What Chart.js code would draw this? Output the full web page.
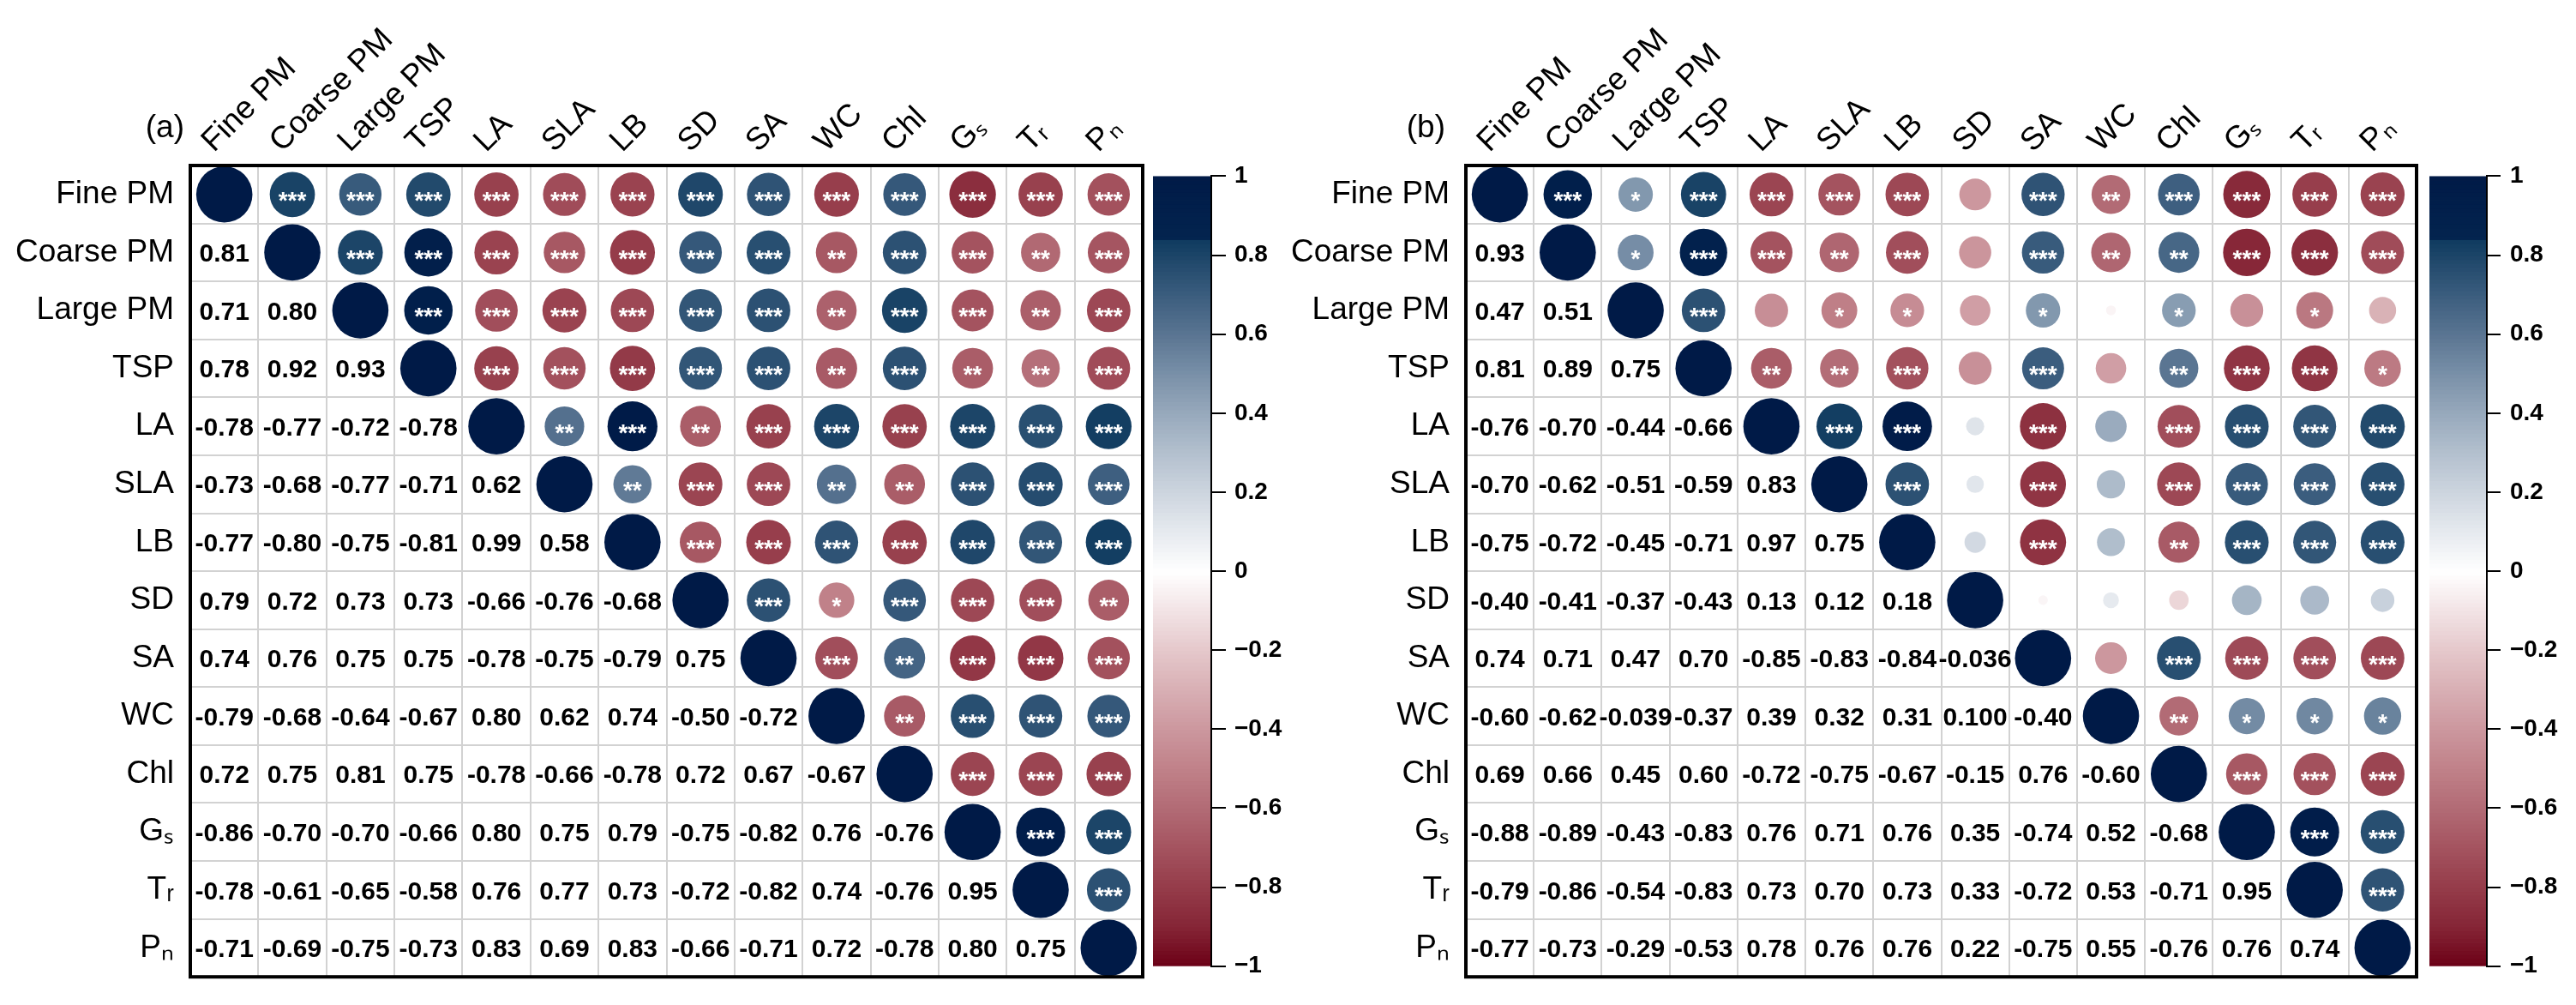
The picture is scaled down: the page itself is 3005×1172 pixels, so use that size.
<!DOCTYPE html>
<html>
<head>
<meta charset="utf-8">
<script src="https://cdn.jsdelivr.net/npm/chart.js@4.4.1/dist/chart.umd.min.js"></script>
<style>
html,body{margin:0;padding:0;background:#fff;width:3005px;height:1172px;overflow:hidden}
canvas{position:absolute;top:0}
#chartA{left:0;width:1500px;height:1172px}
#chartB{left:1500px;width:1505px;height:1172px}
</style>
</head>
<body>
<canvas id="chartA" width="1500" height="1172"></canvas>
<canvas id="chartB" width="1505" height="1172"></canvas>
<script>
// ---------------- DATA ----------------
const variables = ['Fine PM','Coarse PM','Large PM','TSP','LA','SLA','LB','SD','SA','WC','Chl','G\u209B','T\u1D63','P\u2099'];

// lower triangle (row i, columns 0..i-1) — panel (a)
const corrA = [
  [],
  [0.81],
  [0.71,0.80],
  [0.78,0.92,0.93],
  [-0.78,-0.77,-0.72,-0.78],
  [-0.73,-0.68,-0.77,-0.71,0.62],
  [-0.77,-0.80,-0.75,-0.81,0.99,0.58],
  [0.79,0.72,0.73,0.73,-0.66,-0.76,-0.68],
  [0.74,0.76,0.75,0.75,-0.78,-0.75,-0.79,0.75],
  [-0.79,-0.68,-0.64,-0.67,0.80,0.62,0.74,-0.50,-0.72],
  [0.72,0.75,0.81,0.75,-0.78,-0.66,-0.78,0.72,0.67,-0.67],
  [-0.86,-0.70,-0.70,-0.66,0.80,0.75,0.79,-0.75,-0.82,0.76,-0.76],
  [-0.78,-0.61,-0.65,-0.58,0.76,0.77,0.73,-0.72,-0.82,0.74,-0.76,0.95],
  [-0.71,-0.69,-0.75,-0.73,0.83,0.69,0.83,-0.66,-0.71,0.72,-0.78,0.80,0.75]
];
// significance stars, upper triangle (row i, columns i+1..13) — panel (a)
const starsA = [
  ['***','***','***','***','***','***','***','***','***','***','***','***','***'],
  ['***','***','***','***','***','***','***','**','***','***','**','***'],
  ['***','***','***','***','***','***','**','***','***','**','***'],
  ['***','***','***','***','***','**','***','**','**','***'],
  ['**','***','**','***','***','***','***','***','***'],
  ['**','***','***','**','**','***','***','***'],
  ['***','***','***','***','***','***','***'],
  ['***','*','***','***','***','**'],
  ['***','**','***','***','***'],
  ['**','***','***','***'],
  ['***','***','***'],
  ['***','***'],
  ['***']
];

// lower triangle — panel (b)
const corrB = [
  [],
  [0.93],
  [0.47,0.51],
  [0.81,0.89,0.75],
  [-0.76,-0.70,-0.44,-0.66],
  [-0.70,-0.62,-0.51,-0.59,0.83],
  [-0.75,-0.72,-0.45,-0.71,0.97,0.75],
  [-0.40,-0.41,-0.37,-0.43,0.13,0.12,0.18],
  [0.74,0.71,0.47,0.70,-0.85,-0.83,-0.84,-0.036],
  [-0.60,-0.62,-0.039,-0.37,0.39,0.32,0.31,0.0999,-0.40],
  [0.69,0.66,0.45,0.60,-0.72,-0.75,-0.67,-0.15,0.76,-0.60],
  [-0.88,-0.89,-0.43,-0.83,0.76,0.71,0.76,0.35,-0.74,0.52,-0.68],
  [-0.79,-0.86,-0.54,-0.83,0.73,0.70,0.73,0.33,-0.72,0.53,-0.71,0.95],
  [-0.77,-0.73,-0.29,-0.53,0.78,0.76,0.76,0.22,-0.75,0.55,-0.76,0.76,0.74]
];
const starsB = [
  ['***','*','***','***','***','***','','***','**','***','***','***','***'],
  ['*','***','***','**','***','','***','**','**','***','***','***'],
  ['***','','*','*','','*','','*','','*',''],
  ['**','**','***','','***','','**','***','***','*'],
  ['***','***','','***','','***','***','***','***'],
  ['***','','***','','***','***','***','***'],
  ['','***','','**','***','***','***'],
  ['','','','','',''],
  ['','***','***','***','***'],
  ['**','*','*','*'],
  ['***','***','***'],
  ['***','***'],
  ['***']
];

const colorbarTicks = [-1,-0.8,-0.6,-0.4,-0.2,0,0.2,0.4,0.6,0.8,1];
const panelTags = ['(a)','(b)'];

// ---------------- STYLE ----------------
const FONT = '"Liberation Sans", Arial, Helvetica, sans-serif';
const colorStops = [
  [-1.0,'#6b0016'],[-0.9,'#852536'],[-0.8,'#953c4a'],[-0.7,'#a4535f'],[-0.6,'#b26b75'],
  [-0.5,'#c08189'],[-0.4,'#cc979e'],[-0.3,'#d8afb4'],[-0.2,'#e5c8cb'],[-0.1,'#f2e3e5'],
  [0,'#ffffff'],[0.1,'#e6eaef'],[0.2,'#cdd5df'],[0.3,'#b3c0ce'],[0.4,'#97a9bc'],
  [0.5,'#7990a8'],[0.6,'#5a7592'],[0.7,'#3b5d7e'],[0.8,'#1c4568'],[0.84,'#103b60'],
  [0.845,'#03244f'],[1.0,'#001a47']
];
function hexRgb(h){return [parseInt(h.slice(1,3),16),parseInt(h.slice(3,5),16),parseInt(h.slice(5,7),16)];}
function corrColor(v){
  v = Math.max(-1, Math.min(1, v));
  for (let k = 0; k < colorStops.length - 1; k++) {
    const [a, ca] = colorStops[k], [b, cb] = colorStops[k+1];
    if (v >= a && v <= b) {
      const t = (v - a) / (b - a), A = hexRgb(ca), B = hexRgb(cb);
      return 'rgb(' + A.map((c,i)=>Math.round(c + (B[i]-c)*t)).join(',') + ')';
    }
  }
  return colorStops[colorStops.length-1][1];
}
function fmtCorr(v){ return Math.abs(v) < 0.1 ? v.toFixed(3) : v.toFixed(2); }
function fmtTick(v){
  const r = Math.round(v*10)/10;
  if (r === 0) return '0';
  const s = Math.abs(r) === 1 ? '1' : Math.abs(r).toFixed(1);
  return (r < 0 ? '\u2212' : '') + s;
}

const corrPlugin = {
  id: 'corrMatrix',
  afterDatasetsDraw(chart) {
    const o = chart.options.plugins.corrMatrix;
    const {ctx, chartArea: a} = chart;
    const xs = chart.scales.x, ys = chart.scales.y, cs = chart.scales.cb;
    ctx.save();
    // coefficients in the lower triangle
    ctx.fillStyle = '#000';
    ctx.font = 'bold 30px ' + FONT;
    ctx.textAlign = 'center';
    ctx.textBaseline = 'alphabetic';
    o.corr.forEach((row, i) => row.forEach((v, j) => {
      ctx.fillText(fmtCorr(v), xs.getPixelForValue(j), ys.getPixelForValue(i) + 10.7);
    }));
    // significance stars in the upper triangle
    ctx.fillStyle = '#fff';
    ctx.font = 'bold 28px ' + FONT;
    o.stars.forEach((row, i) => row.forEach((s, k) => {
      if (!s) return;
      const j = i + 1 + k;
      ctx.fillText(s, xs.getPixelForValue(j), ys.getPixelForValue(i) + 16.5);
    }));
    // frame
    ctx.strokeStyle = '#000';
    ctx.lineWidth = 4;
    ctx.strokeRect(a.left, a.top, a.right - a.left, a.bottom - a.top);
    // colour bar
    const x0 = a.right + o.cbGap, x1 = x0 + o.cbWidth;
    const steps = 200;
    for (let k = 0; k < steps; k++) {
      const v0 = -1 + 2*k/steps, v1 = -1 + 2*(k+1)/steps;
      const yTop = cs.getPixelForValue(v1), yBot = cs.getPixelForValue(v0);
      ctx.fillStyle = corrColor((v0 + v1) / 2);
      ctx.fillRect(x0, yTop, x1 - x0, yBot - yTop + (k > 0 ? 0.8 : 0));
    }
    ctx.strokeStyle = '#000';
    ctx.lineWidth = 2;
    ctx.beginPath();
    ctx.moveTo(x1 + 1, cs.getPixelForValue(1));
    ctx.lineTo(x1 + 1, cs.getPixelForValue(-1));
    colorbarTicks.forEach(t => {
      const y = Math.round(cs.getPixelForValue(t));
      ctx.moveTo(x1, y);
      ctx.lineTo(x1 + o.cbTickLen, y);
    });
    ctx.stroke();
    // panel tag
    ctx.fillStyle = '#000';
    ctx.font = '37px ' + FONT;
    ctx.textAlign = 'right';
    ctx.fillText(o.tag, o.tagX, 160);
    ctx.restore();
  }
};

function makePanel(canvasId, corr, stars, tag, geo) {
  const n = variables.length;
  const full = (i, j) => i === j ? 1 : (i > j ? corr[i][j] : corr[j][i]);
  const pts = [];
  for (let i = 0; i < n; i++) for (let j = i; j < n; j++) {
    pts.push({x: variables[j], y: variables[i], v: full(i, j), diag: i === j});
  }
  const radius = c => c.raw ? (c.raw.diag ? 32.8 : 29.3 * Math.sqrt(Math.abs(c.raw.v))) : 0;
  const gridOpts = {offset: true, color: '#d2d2d2', lineWidth: 2, drawTicks: false};
  const W = document.getElementById(canvasId).width;
  const chartBottom = 1141;
  const cbExt = ((chartBottom - geo.top) / 2) / ((geo.cbBottom - geo.cbTop) / 2);
  const noVPad = s => { s.paddingTop = 0; s.paddingBottom = 0; };
  new Chart(document.getElementById(canvasId), {
    type: 'scatter',
    data: {datasets: [{
      data: pts,
      pointRadius: radius,
      pointHoverRadius: radius,
      backgroundColor: c => c.raw ? corrColor(c.raw.v) : '#000',
      borderWidth: 0,
      pointStyle: 'circle'
    }]},
    options: {
      responsive: false,
      animation: false,
      devicePixelRatio: 1,
      events: [],
      layout: {padding: {left: 0, right: 0, top: 0, bottom: 1172 - chartBottom}},
      plugins: {
        legend: {display: false},
        tooltip: {enabled: false},
        corrMatrix: {corr, stars, tag, tagX: geo.tagX, cbGap: geo.cbGap, cbWidth: geo.cbWidth, cbTickLen: geo.cbTickLen}
      },
      scales: {
        x: {
          type: 'category', labels: variables, position: 'top', offset: true,
          grid: gridOpts, border: {display: false},
          ticks: {autoSkip: false, minRotation: 45, maxRotation: 45, color: '#000',
                  font: {size: 37, family: FONT}, padding: 6, labelOffset: 12},
          afterFit: s => { s.height = geo.top; s.paddingLeft = 0; s.paddingRight = 0; }
        },
        y: {
          type: 'category', labels: variables, position: 'left', offset: true,
          grid: gridOpts, border: {display: false},
          ticks: {autoSkip: false, color: '#000', font: {size: 37, family: FONT}, padding: 19},
          afterFit: s => { s.width = geo.left; noVPad(s); }
        },
        cb: {
          type: 'linear', position: 'right', min: -cbExt, max: cbExt,
          grid: {display: false, drawTicks: false}, border: {display: false},
          afterBuildTicks: s => { s.ticks = colorbarTicks.map(v => ({value: v})); },
          ticks: {autoSkip: false, color: '#000', font: {size: 28, weight: 'bold', family: FONT},
                  padding: geo.cbLabelPad, callback: v => fmtTick(v)},
          afterFit: s => { s.width = W - geo.right; noVPad(s); }
        }
      }
    },
    plugins: [corrPlugin]
  });
}

makePanel('chartA', corrA, starsA, panelTags[0], {
  top: 193, left: 222, right: 1333, cbTop: 206, cbBottom: 1129,
  cbGap: 12, cbWidth: 67, cbTickLen: 18, cbLabelPad: 107, tagX: 215
});
makePanel('chartB', corrB, starsB, panelTags[1], {
  top: 193, left: 210, right: 1319, cbTop: 206, cbBottom: 1129,
  cbGap: 15, cbWidth: 66, cbTickLen: 17, cbLabelPad: 109, tagX: 186
});
</script>
</body>
</html>
